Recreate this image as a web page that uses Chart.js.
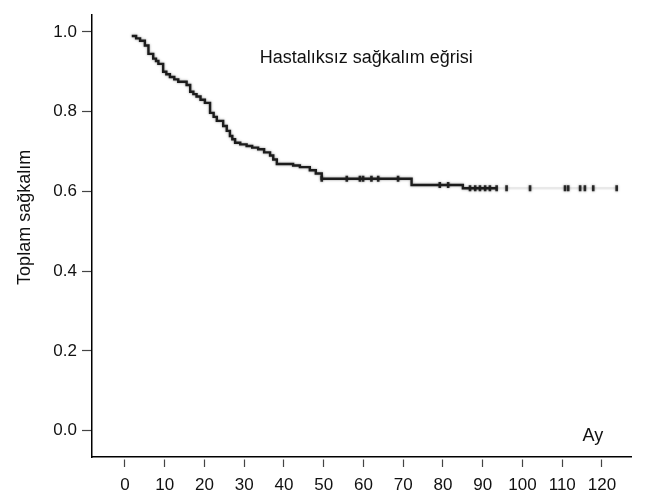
<!DOCTYPE html>
<html>
<head>
<meta charset="utf-8">
<script src="https://cdn.jsdelivr.net/npm/chart.js@4"></script>
<style>
  body { margin: 0; background: #fff; }
  canvas { display: block; }
</style>
</head>
<body>
<canvas id="kmChart" width="651" height="501"></canvas>
<script>
// Kaplan-Meier curve (event times in months, survival after the step)
const kmTime = [1.7, 2.8, 3.8, 5.0, 5.9, 7.1, 7.8, 8.4, 9.6, 10.4, 11.3, 12.4, 13.4, 15.5, 16.4, 17.2, 18.0, 19.0, 20.1, 21.4, 22.3, 23.1, 24.7, 25.6, 26.4, 27.0, 27.7, 29.0, 30.6, 32.0, 33.5, 35.0, 36.5, 37.3, 38.2, 42.3, 44.0, 46.5, 48.0, 49.5, 72.1, 85.0, 93.5, 123.8];
const kmSurv = [0.99, 0.984, 0.978, 0.966, 0.945, 0.933, 0.927, 0.92, 0.9, 0.894, 0.887, 0.881, 0.875, 0.867, 0.85, 0.844, 0.838, 0.83, 0.822, 0.797, 0.787, 0.777, 0.764, 0.752, 0.739, 0.731, 0.722, 0.718, 0.714, 0.71, 0.706, 0.698, 0.69, 0.68, 0.669, 0.665, 0.661, 0.653, 0.645, 0.632, 0.616, 0.608, 0.608, 0.608];

// censored observations
const censorTime = [49.5, 55.8, 59.1, 59.9, 62.0, 63.7, 68.7, 79.2, 81.3, 86.8, 88.1, 89.3, 90.6, 91.8, 93.5, 96.0, 101.9, 110.7, 111.5, 114.5, 115.7, 117.8, 123.7];
const censorSurv = [0.632, 0.632, 0.632, 0.632, 0.632, 0.632, 0.632, 0.616, 0.616, 0.608, 0.608, 0.608, 0.608, 0.608, 0.608, 0.608, 0.608, 0.608, 0.608, 0.608, 0.608, 0.608, 0.608];

const xTicks = [0, 10, 20, 30, 40, 50, 60, 70, 80, 90, 100, 110, 120];
const yTicks = [0, 0.2, 0.4, 0.6, 0.8, 1.0];

const chartTitle = 'Hastalıksız sağkalım eğrisi';
const xTitle = 'Ay';
const yTitle = 'Toplam sağkalım';

const FAMILY = '"Liberation Sans", Arial, sans-serif';
const FONT = '18px ' + FAMILY;

// text labels sit inside the plot, so draw them by hand
const labelPlugin = {
    id: 'labels',
    beforeDatasetsDraw(chart) {
        // the scanned curve is soft, give it a slight blur
        chart.ctx.save();
        chart.ctx.shadowColor = 'rgba(0,0,0,0.45)';
        chart.ctx.shadowBlur = 2.5;
    },
    afterDatasetsDraw(chart) {
        chart.ctx.restore();
    },
    afterDraw(chart) {
        const ctx = chart.ctx;
        const x = chart.scales.x, y = chart.scales.y;
        ctx.save();
        ctx.fillStyle = '#111';
        ctx.font = FONT;
        ctx.textBaseline = 'alphabetic';
        ctx.textAlign = 'center';
        ctx.fillText(chartTitle, x.getPixelForValue(60.7), y.getPixelForValue(0.921));
        ctx.fillText(xTitle, x.getPixelForValue(117.7), y.getPixelForValue(-0.025));
        ctx.translate(chart.chartArea.left - 62, y.getPixelForValue(0.535));
        ctx.rotate(-Math.PI / 2);
        ctx.fillText(yTitle, 0, 0);
        ctx.restore();
    }
};

const kmChart = new Chart(document.getElementById('kmChart'), {
    type: 'scatter',
    data: {
        datasets: [{
            label: 'KM',
            type: 'line',
            data: kmTime.map((t, i) => ({ x: t, y: kmSurv[i] })),
            stepped: true,
            borderColor: '#1c1c1c',
            borderWidth: 2.4,
            pointRadius: 0,
            fill: false,
            segment: {
                borderColor: c => c.p0.parsed.x >= 93.5 ? 'rgba(0,0,0,0.07)' : undefined
            }
        }, {
            label: 'Sansür',
            data: censorTime.map((t, i) => ({ x: t, y: censorSurv[i] })),
            pointStyle: 'line',
            rotation: 90,
            radius: 3,
            borderWidth: 2.6,
            borderColor: '#2a2a2a',
            backgroundColor: '#2a2a2a'
        }]
    },
    options: {
        responsive: false,
        animation: false,
        layout: { padding: { top: 7, right: 20, left: 0, bottom: 0 } },
        plugins: {
            legend: { display: false },
            tooltip: { enabled: false }
        },
        scales: {
            x: {
                type: 'linear',
                min: -8.3,
                max: 127.3,
                afterBuildTicks: s => { s.ticks = xTicks.map(v => ({ value: v })); },
                afterFit: s => { s.height = 44; },
                ticks: {
                    color: '#111',
                    font: { family: FAMILY, size: 17 },
                    padding: 8,
                    maxRotation: 0,
                    autoSkip: false
                },
                grid: {
                    drawOnChartArea: false,
                    tickLength: 10,
                    tickColor: '#444',
                    tickWidth: 1.2,
                    tickBorderDash: [0, 2, 8, 4]
                },
                border: { color: '#000', width: 1.5 }
            },
            y: {
                type: 'linear',
                min: -0.066,
                max: 1.042,
                afterBuildTicks: s => { s.ticks = yTicks.map(v => ({ value: v })); },
                afterFit: s => { s.width = 92; },
                ticks: {
                    color: '#111',
                    font: { family: FAMILY, size: 17 },
                    padding: 5,
                    callback: v => v.toFixed(1)
                },
                grid: {
                    drawOnChartArea: false,
                    tickLength: 10,
                    tickColor: '#444',
                    tickWidth: 1.2
                },
                border: { color: '#000', width: 1.5 }
            }
        }
    },
    plugins: [labelPlugin]
});
</script>
</body>
</html>
